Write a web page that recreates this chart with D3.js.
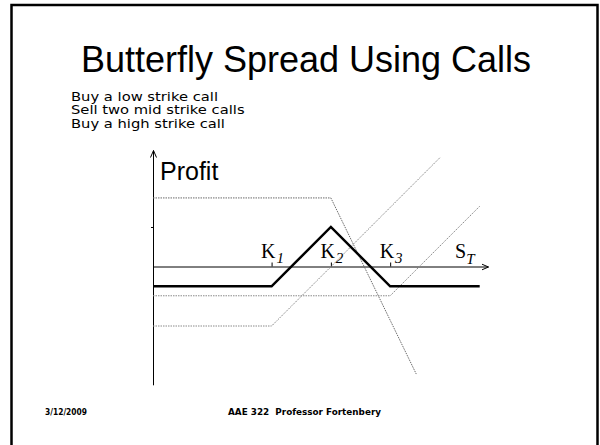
<!DOCTYPE html>
<html lang="en">
<head>
  <meta charset="UTF-8">
  <title>Butterfly Spread Using Calls</title>
  <script src="https://d3js.org/d3.v7.min.js"></script>
  <style>
    body { margin: 0; background: #fff; }
    #svgScene { display: block; }
    .axis path, .axis line { stroke: #000; stroke-width: 1; }
  </style>
</head>
<body>
  <svg id="svgScene" width="600" height="445"></svg>

  <script>
    // strikes on the S_T axis and their subscripts
    const strikes = [20, 30, 40];
    const strikeSubs = ["1", "2", "3"];

    // bullet text under the title
    const notes = ["Buy a low strike call", "Sell two mid strike calls", "Buy a high strike call"];

    // payoff lines, [S_T, profit] vertices
    const longLowCall = [[0, -10], [20, -10], [48.4, 18.4]];
    const shortMidCalls = [[0, 11.6], [30, 11.6], [44.4, -18.1]];
    const longHighCall = [[0, -4.9], [40, -4.9], [55.1, 10.2]];
    const butterfly = [[0, -3.3], [20, -3.3], [30, 6.7], [40, -3.3], [55.1, -3.3]];

    const svgScene = d3.select("#svgScene");

    const xScale = d3.scaleLinear().domain([0, 56.5]).range([153, 488]);
    const yScale = d3.scaleLinear().domain([-20, 19.6]).range([385.3, 150.5]);

    drawFrame();
    drawAxes();
    drawPayoffs();
    drawLabels();

    function drawFrame() {
      svgScene.append("rect")
        .attr("x", 11.5).attr("y", 5)
        .attr("width", 586).attr("height", 470)
        .attr("fill", "none")
        .attr("stroke", "#000")
        .attr("stroke-width", 2.5);

      svgScene.append("text")
        .attr("x", 306).attr("y", 71.5)
        .attr("text-anchor", "middle")
        .attr("font-family", "Liberation Sans, Arial, sans-serif")
        .attr("font-size", "36px")
        .text("Butterfly Spread Using Calls");

      // slide text is a wide face with tight leading; keep the font small and stretch it
      const noteText = svgScene.append("g").selectAll("text")
        .data(notes)
        .join("text")
        .attr("x", 71)
        .attr("y", (d, i) => 100.5 + i * 13.6)
        .attr("font-family", "DejaVu Sans, Verdana, sans-serif")
        .attr("font-size", "11.6px")
        .text(d => d);
      const stretch = 147 / noteText.node().getComputedTextLength();
      noteText.each(function () {
        d3.select(this)
          .attr("textLength", this.getComputedTextLength() * stretch)
          .attr("lengthAdjust", "spacingAndGlyphs");
      });

      const footer = svgScene.append("g")
        .attr("font-family", "DejaVu Sans, Verdana, sans-serif")
        .attr("font-weight", "bold")
        .attr("font-size", "9px");
      footer.append("text").attr("x", 45).attr("y", 415)
        .attr("textLength", 42).attr("lengthAdjust", "spacingAndGlyphs")
        .text("3/12/2009");
      footer.append("text").attr("x", 228).attr("y", 415)
        .attr("xml:space", "preserve")
        .attr("textLength", 153).attr("lengthAdjust", "spacingAndGlyphs")
        .text("AAE 322  Professor Fortenbery");
    }

    function drawAxes() {
      const defs = svgScene.append("defs");
      defs.append("marker")
        .attr("id", "arrow")
        .attr("viewBox", "0 -4 8 8")
        .attr("refX", 7).attr("refY", 0)
        .attr("markerWidth", 8).attr("markerHeight", 8)
        .attr("markerUnits", "userSpaceOnUse")
        .attr("orient", "auto")
        .append("path")
        .attr("d", "M0,-3L7,0L0,3")
        .attr("fill", "none")
        .attr("stroke", "#000")
        .attr("stroke-width", 1);

      const xAxis = svgScene.append("g")
        .attr("class", "axis")
        .attr("transform", `translate(0,${Math.round(yScale(0)) - 0.5})`)
        .call(d3.axisTop(xScale).tickValues(strikes).tickSize(4).tickSizeOuter(0).tickFormat(""));
      xAxis.select(".domain").attr("marker-end", "url(#arrow)");
      xAxis.selectAll(".tick line").attr("stroke-width", 1.5);

      const yAxis = svgScene.append("g")
        .attr("class", "axis")
        .attr("transform", `translate(${xScale(0)},0)`)
        .call(d3.axisLeft(yScale).tickValues([6.7]).tickSize(2).tickSizeOuter(0).tickFormat(""));
      // redraw the domain bottom-to-top so the arrow lands on top
      yAxis.select(".domain")
        .attr("d", `M0.5,${yScale(-20)}V${yScale(19.6)}`)
        .attr("marker-end", "url(#arrow)");
    }

    function drawPayoffs() {
      const line = d3.line().x(d => xScale(d[0])).y(d => yScale(d[1]));

      const legs = [
        { data: longLowCall, color: "#8a8a8a" },
        { data: shortMidCalls, color: "#6a6a6a" },
        { data: longHighCall, color: "#8a8a8a" }
      ];

      svgScene.append("g").selectAll("path")
        .data(legs)
        .join("path")
        .attr("d", d => line(d.data))
        .attr("fill", "none")
        .attr("stroke", d => d.color)
        .attr("stroke-width", 1)
        .attr("stroke-dasharray", "1.5,1");

      svgScene.append("path")
        .attr("d", line(butterfly))
        .attr("fill", "none")
        .attr("stroke", "#000")
        .attr("stroke-width", 2.5)
        .attr("stroke-linejoin", "miter");
    }

    function drawLabels() {
      svgScene.append("text")
        .attr("x", 160).attr("y", 180)
        .attr("font-family", "Liberation Sans, Arial, sans-serif")
        .attr("font-size", "25px")
        .text("Profit");

      const serif = "Liberation Serif, Times New Roman, serif";
      const kLabels = svgScene.append("g").selectAll("text")
        .data(strikes)
        .join("text")
        .attr("x", d => xScale(d) - 10.5)
        .attr("y", 258)
        .attr("font-family", serif)
        .attr("font-size", "20px");
      kLabels.append("tspan").text("K");
      kLabels.append("tspan")
        .attr("dy", 5)
        .attr("dx", 1)
        .attr("font-size", "15px")
        .attr("font-style", "italic")
        .text((d, i) => strikeSubs[i]);

      const st = svgScene.append("text")
        .attr("x", 455).attr("y", 258)
        .attr("font-family", serif)
        .attr("font-size", "20px");
      st.append("tspan").text("S");
      st.append("tspan")
        .attr("dy", 6)
        .attr("font-size", "15px")
        .attr("font-style", "italic")
        .text("T");
    }
  </script>
</body>
</html>
